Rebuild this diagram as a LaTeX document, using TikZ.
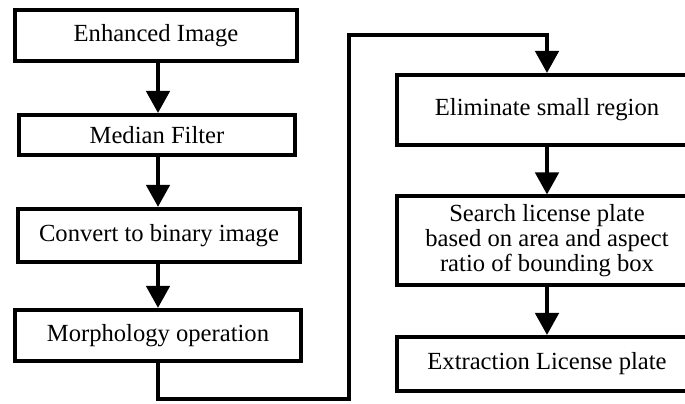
\documentclass[tikz,border=0pt]{standalone}
\usepackage{fontspec}
\setmainfont{Liberation Serif}
\usetikzlibrary{arrows.meta}
\tikzstyle{proc} = [rectangle, draw, line width=0.1cm, align=center, inner sep=0pt, minimum width=7.05cm, font=\fontsize{17.5}{18}\selectfont]
\tikzset{edge/.style = {
    line width=0.1cm,
    -{Triangle[length=0.55cm,width=0.58cm]},
  }
}

\begin{document}
\begin{tikzpicture}[x=0.025cm, y=-0.025cm]
            \useasboundingbox (0,0) rectangle (685,403);
            % left column
            \node[proc, minimum height=1.28cm] (enh) at (156 , 35.5) {Enhanced Image};
            \node[proc, minimum width=6.9cm, minimum height=1cm] (med) at (157 , 135) {Median Filter};
            \node[proc, minimum height=1.33cm] (bin) at (159 , 235.5) {Convert to binary image};
            \node[proc, minimum width=7.15cm, minimum height=1.28cm] (morph) at (158 , 335.5) {Morphology operation};
            % right column
            \node[proc, minimum width=7.5cm, minimum height=1.75cm] (elim) at (547 , 110) {Eliminate small region};
            \node[proc, minimum width=7.5cm, minimum height=2.2cm] (search) at (547 , 240.5) {Search license plate\\ based on area and aspect\\ ratio of bounding box};
            \node[proc, minimum width=7.5cm, minimum height=1.35cm] (extr) at (547 , 364) {Extraction License plate};

            % flow lines
            \draw[edge] (enh.south -| 158,0) -- (med.north -| 158,0);
            \draw[edge] (med.south -| 158,0) -- (bin.north -| 158,0);
            \draw[edge] (bin.south -| 158,0) -- (morph.north -| 158,0);
            \draw[edge] (morph.south) |- (349,399) |- (547,35) -- (elim.north);
            \draw[edge] (elim.south) -- (search.north);
            \draw[edge] (search.south) -- (extr.north);
\end{tikzpicture}
\end{document}
